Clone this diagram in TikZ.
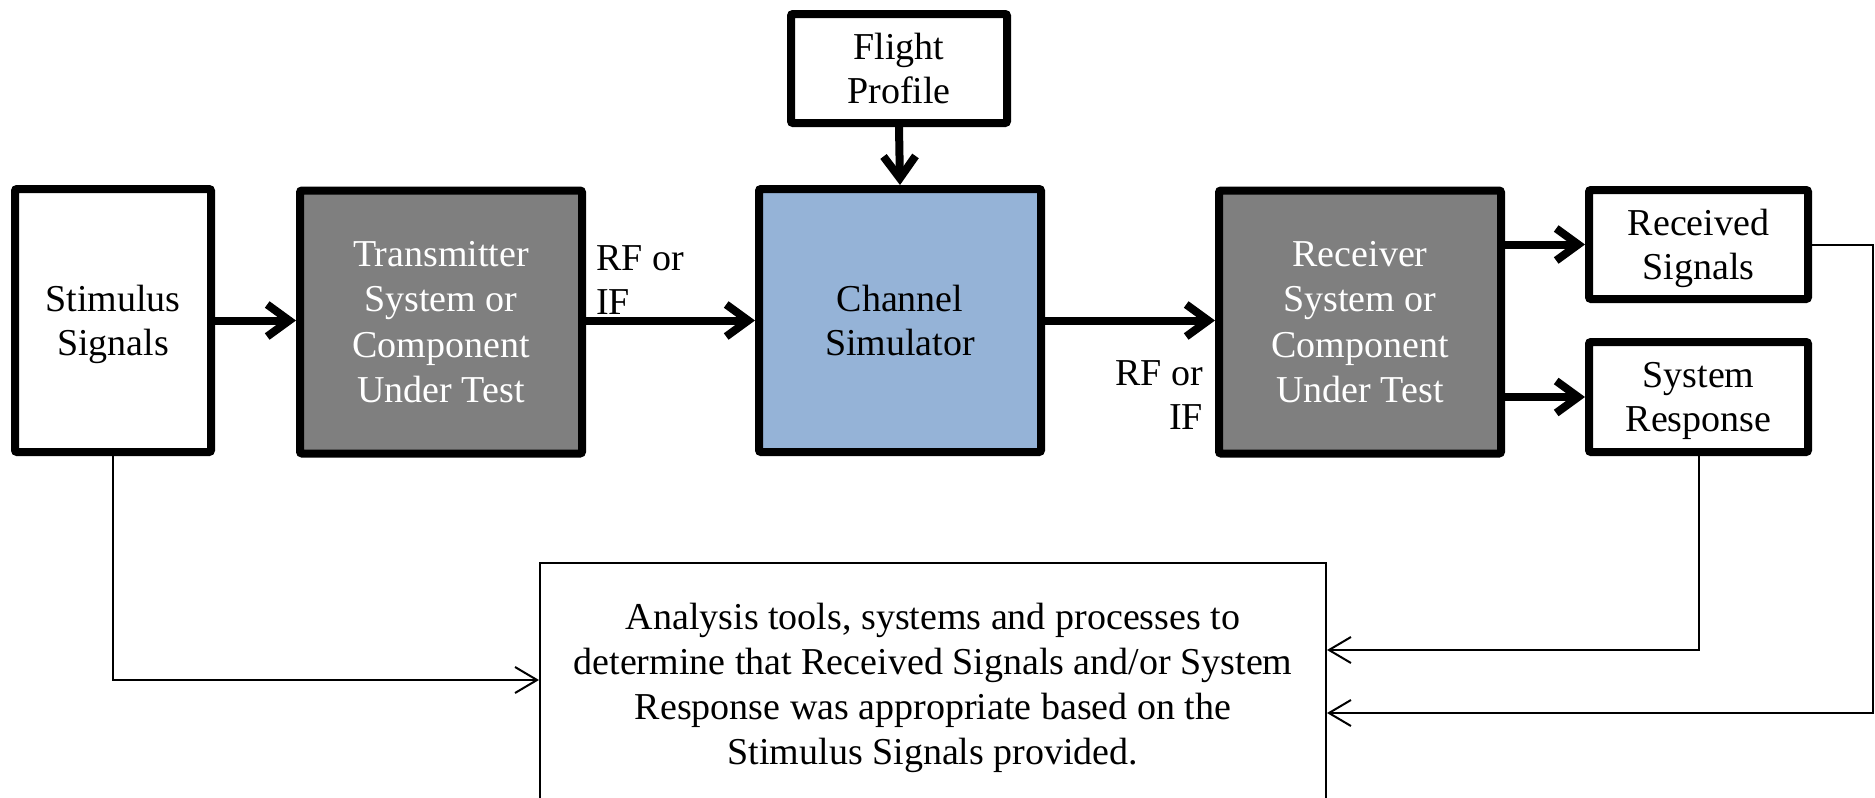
\documentclass[tikz,border=0pt]{standalone}
\usepackage{fontspec}
\setmainfont{Liberation Serif}
\usetikzlibrary{arrows.meta,calc}
\definecolor{boxgray}{HTML}{7F7F7F}
\definecolor{boxblue}{HTML}{95B3D7}
\begin{document}
\begin{tikzpicture}[x=1pt,y=-1pt,
  font=\fontsize{38}{44}\selectfont,
  thickbox/.style={draw=black, line width=8pt, rounded corners=2pt, inner sep=0pt, align=center, text depth=0pt},
  graybox/.style={thickbox, fill=boxgray, text=white, font=\fontsize{38}{45.5}\selectfont},
  bluebox/.style={thickbox, fill=boxblue},
  thinbox/.style={draw=black, line width=2pt, inner sep=0pt, align=center, fill=white, text depth=0pt, font=\fontsize{38}{45}\selectfont},
  bigarrow/.style={line width=8pt, -{Straight Barb[length=22pt,width=32pt]}},
  smallarrow/.style={line width=2pt, -{Straight Barb[length=22pt,width=26pt]}},
  label/.style={inner sep=0pt}
]
\useasboundingbox (0,0) rectangle (1875,798);

\node[thickbox, minimum width=196pt, minimum height=263pt] (stim) at (113,320.5) {Stimulus\\Signals};
\node[graybox, minimum width=282pt, minimum height=263pt] (tx) at (441,322) {Transmitter\\System or\\Component\\Under Test};
\node[bluebox, minimum width=282pt, minimum height=263pt] (ch) at (900,320.5) {Channel\\Simulator};
\node[thickbox, minimum width=216pt, minimum height=109pt] (fp) at (899,68.5) {Flight\\Profile};
\node[graybox, minimum width=282pt, minimum height=263pt] (rx) at (1360,322) {Receiver\\System or\\Component\\Under Test};
\node[thickbox, minimum width=219pt, minimum height=109pt] (rs) at (1698.5,244.5) {Received\\Signals};
\node[thickbox, minimum width=219pt, minimum height=110pt] (sr) at (1698.5,397) {System\\Response};
\node[thinbox, minimum width=786pt, minimum height=242pt] (an) at (933,684) {Analysis tools, systems and processes to\\determine that Received Signals and/or System\\Response was appropriate based on the\\Stimulus Signals provided.};

\node[label, anchor=west, align=left] (rf1) at (596,280) {RF or\\IF};
\node[label, anchor=east, align=right] (rf2) at (1203,395) {RF or\\IF};

\coordinate (rcorner) at (1873,244.5);

\draw[bigarrow] (stim.east) -- (tx.west |- stim.east);
\draw[bigarrow] (tx.east |- ch.west) -- (ch.west);
\draw[bigarrow] (fp.south) -- (ch.north);
\draw[bigarrow] (ch.east) -- (rx.west |- ch.east);
\draw[bigarrow] (rx.east |- rs) -- (rs.west);
\draw[bigarrow] (rx.east |- sr) -- (sr.west);

\draw[smallarrow] (stim.south) |- ($(an.west)+(0,-4)$);
\draw[smallarrow] (sr.south) |- ($(an.east)+(0,-34)$);
\draw[smallarrow] (rs.east) -- (rcorner) |- ($(an.east)+(0,29)$);
\end{tikzpicture}
\end{document}
